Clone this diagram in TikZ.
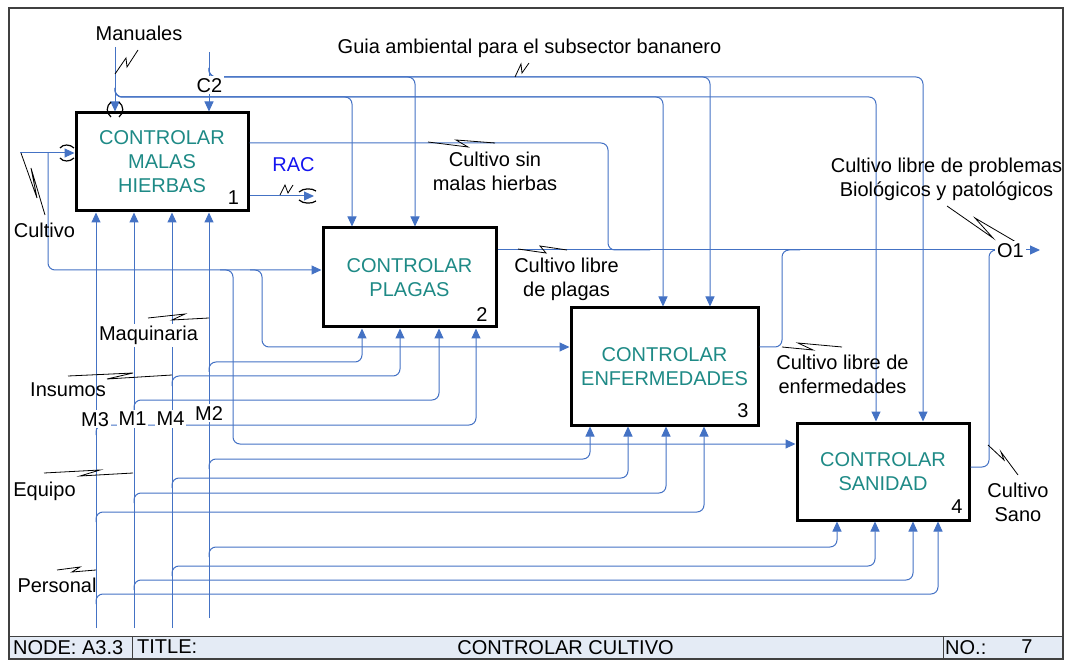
\documentclass[tikz,border=0pt]{standalone}
\usepackage{fontspec}
\setmainfont{Liberation Sans}
\usetikzlibrary{arrows.meta}
\definecolor{flow}{HTML}{4472C4}
\definecolor{acttext}{HTML}{1E8A86}
\definecolor{framegray}{HTML}{404040}
\definecolor{footfill}{HTML}{E4EBF5}
\definecolor{ractext}{HTML}{1414F0}
\begin{document}
\begin{tikzpicture}[x=1pt,y=-1pt,
  font=\fontsize{20}{24}\selectfont,
  act/.style={draw=black,line width=3pt,fill=white,inner sep=0pt,align=center,text=acttext},
  flowline/.style={draw=flow,line width=1pt,rounded corners=7pt},
  arr/.style={flowline,-{Triangle[length=10pt,width=9pt]}},
  zig/.style={draw=black,line width=0.8pt,line join=miter},
  tun/.style={draw=black,line width=1.2pt},
  lbl/.style={align=center,inner sep=0pt,anchor=north},
  wlbl/.style={lbl,fill=white,inner sep=2pt},
  num/.style={inner sep=0pt,anchor=north},
]
\useasboundingbox (0,0) rectangle (1066,660);

% frame and title block
\fill[footfill] (9,636) rectangle (1063,659);
\draw[framegray,line width=1.2pt] (9,8) rectangle (1063,659);
\draw[framegray,line width=1pt] (9,636) -- (1063,636)
  (132,636) -- (132,659) (943,636) -- (943,659);
\node[num,anchor=north west] (fnode) at (13,640) {NODE: A3.3};
\node[num,anchor=north west] (ftitle) at (137,640) {TITLE:};
\node[num] (fname) at (565.5,640) {CONTROLAR CULTIVO};
\node[num,anchor=north west] (fno) at (945,640) {NO.:};
\node[num] (fnum) at (1027,640) {7};

% activities
\node[act,minimum width=172pt,minimum height=98pt] (b1) at (162,162) {CONTROLAR\\MALAS\\HIERBAS};
\node[act,minimum width=173pt,minimum height=99pt] (b2) at (409.5,277.5) {CONTROLAR\\PLAGAS};
\node[act,minimum width=187pt,minimum height=117pt] (b3) at (664.5,366.5) {CONTROLAR\\ENFERMEDADES};
\node[act,minimum width=172pt,minimum height=97pt] (b4) at (883,471.5) {CONTROLAR\\SANIDAD};
\node[num] (n1) at (233.5,191) {1};
\node[num] (n2) at (482,307) {2};
\node[num] (n3) at (743,403) {3};
\node[num] (n4) at (957,500) {4};

% controls: Manuales
\draw[arr] (115,47) -- (115,0 |- b1.north);
\draw[arr] (115,88) |- (352,97) -- (352,0 |- b2.north);
\draw[arr] (115,88) |- (663,97) -- (663,0 |- b3.north);
\draw[arr] (115,88) |- (876,97) -- (876,0 |- b4.north);
% controls: Guia ambiental (C2)
\draw[arr] (209,52) -- (209,0 |- b1.north);
\draw[arr] (209,68) |- (415,77) -- (415,0 |- b2.north);
\draw[arr] (209,68) |- (710,77) -- (710,0 |- b3.north);
\draw[arr] (209,68) |- (923,77) -- (923,0 |- b4.north);

% inputs: Cultivo
\draw[arr] (20,153) -- (b1.west |- 0,153);
\draw[arr] (48,153) |- (b2.west |- 0,270);
\draw[arr] (220,270) -| (233,444) -- (b4.west |- 0,444);
\draw[arr] (250,270) -| (262,347) -- (b3.west |- 0,347);

% outputs
\draw[flowline] (b1.east |- 0,143) -| (608,250) -- (650,250);
\draw[arr] (b2.east |- 0,250) -- (1040,250);
\draw[flowline] (b3.east |- 0,347) -| (782,250) -- (800,250);
\draw[flowline] (b4.east |- 0,467) -| (989,250) -- (1005,250);
\draw[arr] (b1.east |- 0,196) -- (314,196);

% mechanisms M3, M1, M4, M2
\foreach \x/\yb in {96/628,134/628,172/628,209/618}
  \draw[arr] (\x,\yb) -- (\x,0 |- b1.south);
\foreach \x/\y/\tx/\b in {
  209/362/362/b2, 209/459/590/b3, 209/547/837/b4,
  172/376/400/b2, 172/478/628/b3, 172/566/875/b4,
  134/400/439/b2, 134/493/666/b3, 134/580/913/b4,
  96/425/476/b2,  96/512/704/b3,  96/594/938/b4}
  \draw[arr] (\x,\y+10) |- (\tx,\y) -- (\tx,0 |- \b.south);

% tunnel marks
\draw[tun] (111,102) .. controls (106,106) and (106,113) .. (111,117);
\draw[tun] (119,102) .. controls (124,106) and (124,113) .. (119,117);
\draw[tun] (60,148) .. controls (63,144) and (70,144) .. (74,148);
\draw[tun] (60,158) .. controls (63,162) and (70,162) .. (74,158);
\draw[tun] (299,192) .. controls (303,188) and (312,188) .. (316,191);
\draw[tun] (299,200) .. controls (303,204) and (312,204) .. (316,201);

% label leaders
\draw[zig] (115,74) -- (126,58) -- (127,67) -- (138,50);
\draw[zig] (515,77) -- (521,64) -- (522,73) -- (529,63);
\draw[zig] (428,142) -- (468,147) -- (456,140) -- (495,143);
\draw[zig] (280,195) -- (285,185) -- (288,193) -- (293,185);
\draw[zig] (21,153) -- (37,198) -- (31,168) -- (45,215);
\draw[zig] (518,249) -- (546,253) -- (540,246) -- (567,250);
\draw[zig] (782,347) -- (813,350) -- (798,343) -- (842,347);
\draw[zig] (947,206) -- (993,238) -- (975,218) -- (1016,242);
\draw[zig] (988,445) -- (1004,460) -- (1001,452) -- (1018,475);
\draw[zig] (148,318) -- (185,314) -- (172,320) -- (209,318);
\draw[zig] (68,376) -- (133,373) -- (107,379) -- (172,375);
\draw[zig] (44,473) -- (100,470) -- (80,476) -- (133,473);
\draw[zig] (57,570) -- (80,567) -- (72,572) -- (96,570);

% labels
\node[lbl] (lman) at (139,26) {Manuales};
\node[lbl] (lguia) at (529.5,39) {Guia ambiental para el subsector bananero};
\node[wlbl] (lc2) at (209.5,76) {C2};
\node[lbl] (lsin) at (495,152) {Cultivo sin\\malas hierbas};
\node[lbl,text=ractext] (lrac) at (293.5,157) {RAC};
\node[lbl] (lcult) at (44.5,223) {Cultivo};
\node[lbl] (lplag) at (566.5,258) {Cultivo libre\\de plagas};
\node[lbl] (lenf) at (842.5,355) {Cultivo libre de\\enfermedades};
\node[lbl] (lsano) at (1018,483) {Cultivo\\Sano};
\node[lbl] (lprob) at (946.5,158) {Cultivo libre de problemas\\Biológicos y patológicos};
\node[wlbl] (lo1) at (1010.5,241) {O1};
\node[wlbl] (lmaq) at (148.5,324) {Maquinaria};
\node[lbl] (lins) at (68,383) {Insumos};
\node[wlbl] (lm3) at (95,410) {M3};
\node[wlbl] (lm1) at (132.5,410) {M1};
\node[wlbl] (lm4) at (170.5,410) {M4};
\node[wlbl] (lm2) at (209,404) {M2};
\node[lbl] (lequ) at (44.5,482) {Equipo};
\node[lbl] (lper) at (57,578) {Personal};
\end{tikzpicture}
\end{document}
